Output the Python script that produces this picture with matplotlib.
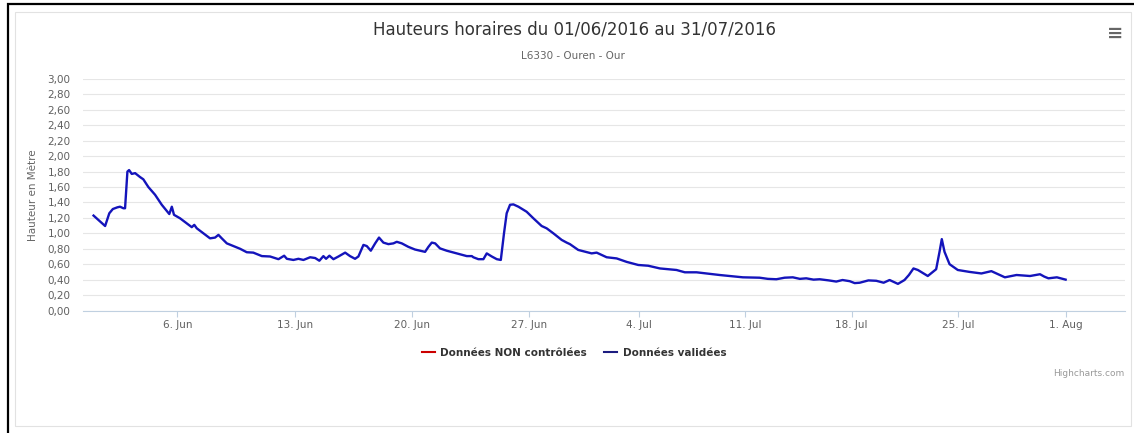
import numpy as np
import pandas as pd
import matplotlib
matplotlib.use('Agg')
import matplotlib.pyplot as plt
import matplotlib.dates as mdates
from matplotlib.lines import Line2D
from matplotlib.patches import Rectangle

# water level readings (days after 01/06/2016 00:00, metres)
START = pd.Timestamp('2016-06-01')
DAYS = [0.0, 0.69, 0.94, 1.15, 1.42, 1.58, 1.78, 1.88, 2.02, 2.12, 2.28, 2.48, 2.77, 2.97,
        3.27, 3.67, 4.07, 4.52, 4.67, 4.80, 5.16, 5.56, 5.86, 6.01, 6.16, 6.55, 6.95, 7.25,
        7.45, 7.65, 7.95, 8.34, 8.74, 9.14, 9.53, 10.04, 10.53, 11.03, 11.37, 11.53, 11.92,
        12.22, 12.52, 12.92, 13.22, 13.47, 13.71, 13.87, 14.07, 14.31, 14.61, 15.01, 15.30,
        15.60, 15.80, 16.10, 16.30, 16.54, 16.80, 17.03, 17.29, 17.59, 17.89, 18.09, 18.39,
        18.78, 19.18, 19.78, 19.98, 20.18, 20.38, 20.67, 21.07, 21.67, 22.27, 22.57, 22.66,
        22.96, 23.26, 23.46, 23.76, 24.06, 24.30, 24.49, 24.65, 24.85, 25.05, 25.35, 25.84,
        26.26, 26.79, 27.11, 27.54, 28.07, 28.39, 28.60, 29.13, 29.99, 30.31, 30.95, 31.59,
        32.23, 32.97, 33.63, 34.40, 35.49, 36.04, 36.81, 37.68, 38.33, 38.99, 39.86, 40.96,
        41.5, 42.06, 42.6, 43.14, 43.6, 44.02, 44.5, 44.90, 45.5, 45.99, 46.4, 46.87, 47.2,
        47.53, 48.1, 48.62, 49.1, 49.49, 50.04, 50.47, 50.76, 51.06, 51.35, 52.00, 52.55,
        52.77, 52.92, 53.10, 53.43, 53.97, 54.74, 55.51, 56.16, 57.04, 57.80, 58.68, 59.33,
        59.6, 59.88, 60.43, 61.0]
HEIGHT = [1.23, 1.095, 1.26, 1.315, 1.337, 1.345, 1.325, 1.325, 1.80, 1.82, 1.77, 1.78, 1.73, 1.70,
          1.60, 1.50, 1.37, 1.25, 1.345, 1.24, 1.195, 1.13, 1.08, 1.11, 1.065, 1.00, 0.935, 0.945,
          0.98, 0.935, 0.87, 0.835, 0.80, 0.755, 0.75, 0.705, 0.70, 0.665, 0.71, 0.67, 0.655,
          0.67, 0.655, 0.69, 0.68, 0.645, 0.705, 0.67, 0.71, 0.665, 0.70, 0.75, 0.705,
          0.67, 0.70, 0.85, 0.835, 0.775, 0.87, 0.945, 0.88, 0.86, 0.87, 0.89, 0.87,
          0.825, 0.79, 0.76, 0.825, 0.88, 0.87, 0.805, 0.775, 0.74, 0.705, 0.705, 0.69,
          0.665, 0.665, 0.74, 0.70, 0.665, 0.655, 1.00, 1.26, 1.37, 1.375, 1.345, 1.28,
          1.195, 1.095, 1.065, 1.00, 0.915, 0.88, 0.86, 0.785, 0.74, 0.75, 0.69, 0.675,
          0.63, 0.59, 0.58, 0.545, 0.525, 0.495, 0.495, 0.475, 0.46, 0.447, 0.43, 0.425,
          0.41, 0.405, 0.425, 0.43, 0.41, 0.417, 0.40, 0.405, 0.39, 0.375, 0.395, 0.38, 0.355,
          0.36, 0.39, 0.385, 0.36, 0.395, 0.345, 0.395, 0.46, 0.545, 0.525, 0.447, 0.535,
          0.76, 0.925, 0.76, 0.60, 0.525, 0.50, 0.48, 0.51, 0.43, 0.46, 0.447, 0.47,
          0.44, 0.417, 0.43, 0.40]
NON_CONTROLE = []  # no unchecked data in this period

# highcharts ordinal axis: weeks are not equally wide, map dates to screen units
AXIS_DAYS = [-5, 0, 5, 12, 19, 26, 33, 40, 47, 54, 61, 70]
AXIS_UNITS = [9.7, 93.5, 177.3, 294.7, 412.0, 529.3, 638.7, 745.0, 851.7, 958.3, 1065.7, 1203.8]

dates = START + pd.to_timedelta(DAYS, unit='D')
anchor_num = mdates.date2num(START + pd.to_timedelta(AXIS_DAYS, unit='D'))
anchor_units = np.array(AXIS_UNITS)


def fwd(x):
    return np.interp(x, anchor_num, anchor_units)


def inv(u):
    return np.interp(u, anchor_units, anchor_num)


fig = plt.figure(figsize=(11.34, 4.33), dpi=100)
fig.patch.set_facecolor('white')

# page frame + chart container border
fig.add_artist(Rectangle((8 / 1134, -0.2), 1.2, 1.2 - 4 / 433, transform=fig.transFigure,
                         fill=False, edgecolor='black', linewidth=1.6))
fig.add_artist(Rectangle((15 / 1134, 1 - 426 / 433), (1131 - 15) / 1134, (426 - 12) / 433,
                         transform=fig.transFigure, fill=False, edgecolor='#e2e2e2', linewidth=0.8))

ax = fig.add_axes([83 / 1134, 1 - 310.5 / 433, 1042 / 1134, 231.5 / 433])
ax.plot(dates, HEIGHT, color='#1414bb', linewidth=1.7, zorder=3)
ax.plot(dates[:len(NON_CONTROLE)], NON_CONTROLE, color='#cc0000', linewidth=1.5)

ax.set_xscale('function', functions=(fwd, inv))
ax.set_xlim(START + pd.Timedelta(days=-0.63), START + pd.Timedelta(days=64.87))
ax.xaxis.set_major_locator(mdates.WeekdayLocator(byweekday=mdates.MO))
ax.xaxis.set_major_formatter(mdates.DateFormatter('%-d. %b'))
ax.xaxis.set_minor_locator(matplotlib.ticker.NullLocator())

ax.set_ylim(0, 3.0)
ax.set_yticks(np.arange(0, 3.01, 0.2))
ax.yaxis.set_major_formatter(matplotlib.ticker.FuncFormatter(lambda v, p: f'{v:.2f}'.replace('.', ',')))
ax.grid(axis='y', color='#e6e6e6', linewidth=0.8)
ax.set_axisbelow(True)

for s in ['top', 'right', 'left']:
    ax.spines[s].set_visible(False)
ax.spines['bottom'].set_color('#c0d0e0')
ax.spines['bottom'].set_linewidth(0.8)
ax.tick_params(axis='y', length=0, pad=9, labelsize=7.5, labelcolor='#606060')
ax.tick_params(axis='x', length=4, width=0.8, color='#c0d0e0', pad=3, labelsize=7.5,
               labelcolor='#606060')

ax.set_ylabel('Hauteur en Mètre', fontsize=7.5, color='#666666')
ax.yaxis.set_label_coords(-0.043, 0.5)

fig.text(0.507, 0.931, 'Hauteurs horaires du 01/06/2016 au 31/07/2016', ha='center', va='center',
         fontsize=12, color='#333333')
fig.text(0.505, 0.871, 'L6330 - Ouren - Our', ha='center', va='center', fontsize=7.5, color='#666666')
fig.text(1115 / 1134, 1 - 33 / 433, '≡', ha='center', va='center', fontsize=14, fontweight='bold',
         color='#666666')
fig.text(1124 / 1134, 1 - 373 / 433, 'Highcharts.com', ha='right', va='center', fontsize=6.5,
         color='#999999')

handles = [Line2D([], [], color='#cc0000', linewidth=1.5),
           Line2D([], [], color='#1c1c80', linewidth=1.5)]
leg = fig.legend(handles, ['Données NON contrôlées', 'Données validées'], loc='center',
                 bbox_to_anchor=(574 / 1134, 1 - 353 / 433), ncol=2, frameon=False,
                 prop={'size': 7.5, 'weight': 'bold'}, handlelength=1.3, handletextpad=0.5,
                 columnspacing=1.6)
for t in leg.get_texts():
    t.set_color('#333333')

fig.savefig('out.png', dpi=100)
